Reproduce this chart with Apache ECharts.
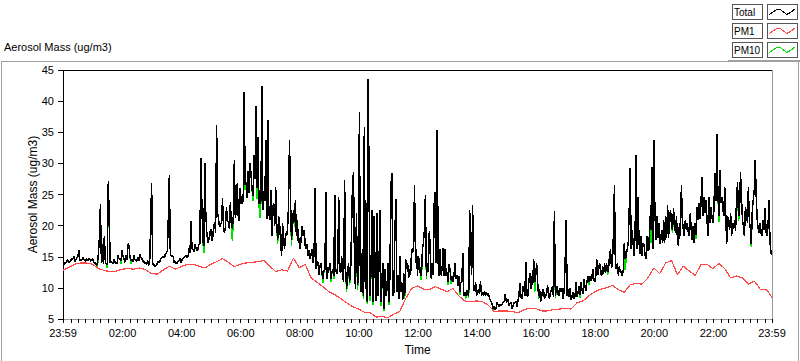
<!DOCTYPE html>
<html><head><meta charset="utf-8">
<script src="https://cdn.jsdelivr.net/npm/echarts@6/dist/echarts.min.js"></script>
<style>html,body{margin:0;padding:0;background:#fff}#c{width:800px;height:361px}#c path,#c polyline,#c rect,#c line{shape-rendering:crispEdges}</style>
</head><body><div id="c"></div>
<script>
// Time axis: minutes elapsed since 23:59 (0 .. 1440)
const totalStepMin = 2;
const pm1StepMin = 12;
const xTickMinutes = [0,121,241,361,481,601,721,841,961,1081,1201,1321,1440];
const xTickLabels = ['23:59','02:00','04:00','06:00','08:00','10:00','12:00','14:00','16:00','18:00','20:00','22:00','23:59'];
const yMin = 5, yMax = 45, yStep = 5;

const total = [
13.6,13.8,14.0,14.1,14.3,14.5,14.1,14.2,14.4,14.8,
14.6,15.1,14.2,14.5,14.8,15.0,16.0,14.3,14.5,14.4,
14.9,14.7,14.4,14.3,14.7,14.4,14.6,14.7,14.3,14.4,
14.8,14.2,14.0,14.0,13.6,13.9,15.6,18.2,23.4,14.0,
17.0,13.9,18.4,14.2,13.8,13.8,27.1,20.6,14.0,14.3,
14.0,13.9,14.6,14.1,13.9,14.0,15.3,14.6,14.8,14.3,
16.0,15.0,14.6,14.1,15.2,14.5,17.1,16.7,15.0,14.4,
14.6,14.2,15.3,14.6,14.4,14.3,15.0,14.4,15.4,14.9,
14.7,14.3,14.3,13.9,14.0,13.8,14.4,13.6,13.9,20.2,
26.8,13.8,13.8,13.4,13.5,13.6,14.2,14.2,14.0,14.6,
14.8,14.9,15.0,14.8,15.5,15.6,15.9,21.5,28.2,15.3,
15.2,15.1,15.0,14.0,14.2,13.9,13.9,14.3,14.5,14.7,
14.0,14.6,14.7,14.9,15.0,15.2,14.8,15.0,16.4,15.6,
20.7,16.4,16.2,15.8,17.0,16.4,16.0,16.2,17.0,17.0,
30.8,23.6,17.5,16.8,30.0,22.0,19.0,17.2,17.6,18.6,
19.5,17.5,18.0,19.9,20.5,18.9,36.2,22.0,21.0,19.8,
20.2,20.4,24.4,19.6,18.8,19.8,23.0,20.9,20.5,19.5,
23.8,20.0,19.5,21.5,30.5,21.2,22.5,26.8,21.5,20.8,
26.0,23.6,23.5,24.0,41.4,26.5,27.0,24.5,28.8,25.3,
30.0,28.1,25.7,24.8,31.4,27.5,39.2,26.0,34.2,23.6,
23.5,24.0,42.5,22.5,25.5,24.0,33.7,21.0,37.0,22.0,
20.9,25.7,18.3,23.0,23.6,19.9,26.2,20.5,17.7,21.5,
20.4,17.5,15.1,20.4,17.8,16.2,18.8,18.3,19.3,23.1,
33.7,24.6,17.7,19.5,22.5,20.6,24.1,18.3,20.9,17.2,
18.0,16.2,18.3,19.9,18.3,19.3,16.8,16.2,17.0,15.1,
16.0,14.6,15.5,16.2,14.0,15.5,26.0,13.0,14.2,14.0,
12.0,13.6,14.0,12.4,11.4,12.8,13.0,25.4,11.4,12.5,
13.0,14.0,11.4,12.5,13.0,11.9,24.9,13.0,12.2,13.5,
24.6,12.8,12.4,15.1,12.0,10.9,27.3,13.0,9.8,12.5,
14.0,11.0,11.9,19.3,26.8,28.6,14.0,9.8,22.0,10.5,
11.4,38.2,10.0,9.3,16.2,8.7,35.9,9.8,23.6,7.7,
43.5,22.5,8.7,14.3,22.5,7.7,21.5,11.9,7.9,22.0,
8.7,14.6,22.5,7.7,11.0,14.0,6.6,13.0,8.7,9.8,
14.0,7.7,12.0,26.5,28.4,8.7,9.3,18.3,24.2,9.3,
12.0,8.2,15.1,9.3,10.9,8.0,12.4,8.7,14.6,13.0,
14.0,11.6,13.0,12.0,16.2,15.6,16.7,26.5,14.0,16.2,
11.9,15.1,14.0,12.0,11.9,16.2,17.2,19.3,24.9,11.9,
14.0,12.5,19.1,16.2,11.4,14.0,12.0,23.6,25.4,14.0,
35.3,14.0,11.9,16.2,12.0,13.0,16.4,11.9,16.2,11.9,
12.5,10.9,13.8,13.0,11.2,11.9,10.9,11.9,14.0,11.4,
12.0,10.3,11.9,9.3,10.9,11.0,15.6,8.7,9.3,8.7,
9.6,9.0,8.8,22.5,15.6,12.0,23.3,9.8,9.5,10.9,
8.7,9.3,9.8,9.0,11.1,8.7,9.3,8.8,9.5,8.7,
9.3,8.7,9.2,8.4,8.0,7.7,7.2,6.6,7.1,6.5,
6.9,7.7,7.2,6.9,7.4,7.1,7.3,7.7,7.8,9.0,
8.0,7.7,8.2,7.1,7.5,7.7,6.6,7.1,7.6,7.7,
7.9,6.9,8.0,8.7,10.8,8.5,8.2,10.3,9.8,8.7,
14.1,8.7,8.7,10.9,12.4,9.8,11.9,10.5,14.6,10.9,
12.0,14.0,11.0,8.7,9.8,7.7,8.5,9.8,9.7,8.2,
8.9,8.7,10.4,9.3,8.2,9.3,9.6,10.3,8.6,22.3,
8.7,9.8,10.3,8.8,8.7,10.0,9.3,10.0,8.3,9.8,
14.6,20.9,8.7,9.8,8.5,10.0,8.0,8.7,9.3,8.3,
8.7,10.9,8.5,9.3,10.3,8.8,10.9,9.8,9.0,11.4,
10.3,9.5,10.9,11.9,10.9,11.9,11.2,11.4,13.0,11.5,
10.9,11.9,14.6,12.0,13.0,14.0,12.3,11.9,13.5,12.3,
14.0,12.4,14.0,12.5,13.0,15.1,16.2,13.2,14.0,18.8,
26.5,13.0,13.2,14.0,11.9,13.5,12.5,12.7,11.9,13.0,
17.2,14.6,15.2,16.2,17.2,22.5,29.2,16.2,19.3,17.2,
15.1,18.8,31.3,16.2,24.6,17.2,15.5,18.3,15.1,17.2,
17.0,15.4,14.6,18.3,16.0,16.2,21.5,19.3,29.4,16.2,
33.7,23.1,17.7,21.5,18.0,20.4,17.0,17.7,19.3,17.2,
20.9,17.2,21.5,18.0,23.3,18.0,21.5,22.5,19.9,19.3,
22.8,20.4,18.8,21.5,17.7,16.7,20.4,18.3,26.5,20.9,
19.3,18.3,20.9,19.3,20.4,18.9,18.3,22.0,19.3,17.7,
19.9,17.2,20.4,18.5,23.0,20.9,23.6,21.0,24.1,27.8,
21.5,24.6,22.0,24.1,21.0,18.3,24.6,20.4,23.0,21.5,
20.4,22.5,28.4,24.0,34.7,25.7,21.5,28.9,23.6,24.6,
23.0,21.5,26.2,22.0,17.0,21.5,20.4,19.3,22.0,18.3,
20.4,19.5,20.9,19.1,24.4,27.0,21.5,22.0,28.6,24.6,
20.9,20.0,18.3,23.0,22.0,20.5,26.2,20.9,19.5,17.0,
22.5,24.1,25.7,30.5,24.6,20.9,19.5,18.8,20.4,18.8,
18.3,20.9,19.3,22.8,19.0,18.3,19.9,24.1,17.2,15.6,
15.4
];

const pm10 = [
13.6,13.8,14.0,14.1,14.3,14.5,14.1,14.2,14.4,14.8,
14.6,15.1,14.2,14.5,14.8,15.0,16.0,14.3,14.5,14.4,
14.9,14.7,14.4,14.3,14.7,14.4,14.6,14.7,14.3,14.4,
14.8,14.2,14.0,14.0,13.6,13.2,15.6,18.2,23.4,14.0,
17.0,13.9,18.4,14.2,13.8,13.2,27.1,20.6,14.0,14.3,
14.0,13.9,14.6,14.1,13.9,14.0,15.3,14.6,14.8,13.8,
16.0,15.0,14.6,14.1,15.2,14.5,17.1,16.7,15.0,13.9,
14.6,14.2,15.3,14.6,14.4,14.3,15.0,14.4,15.4,14.9,
14.7,14.3,14.3,13.9,14.0,13.8,14.4,13.6,13.9,20.2,
26.8,13.8,13.8,13.4,13.5,13.6,14.2,14.2,14.0,14.6,
14.8,14.9,15.0,14.8,15.5,15.6,15.9,21.5,28.2,15.3,
15.2,15.1,15.0,14.0,14.2,13.9,13.9,14.3,14.5,14.7,
14.0,14.6,14.7,14.9,15.0,15.2,14.8,15.0,16.4,15.6,
20.7,16.4,16.2,15.8,17.0,16.4,16.0,16.2,17.0,17.0,
30.8,23.6,17.5,15.6,30.0,22.0,19.0,17.2,17.6,18.6,
19.5,17.5,18.0,19.9,20.5,18.9,36.2,22.0,21.0,19.8,
20.2,20.4,24.4,19.6,18.8,19.8,23.0,20.9,20.5,19.5,
23.8,20.0,17.6,21.5,30.5,21.2,22.5,26.8,21.5,20.8,
26.0,23.6,23.5,24.0,41.4,25.8,27.0,24.5,28.8,25.3,
30.0,28.1,25.7,24.0,31.4,27.5,39.2,24.3,34.2,23.6,
21.3,24.0,42.5,22.5,25.5,24.0,33.7,21.0,37.0,22.0,
20.9,25.7,18.3,23.0,23.6,19.9,26.2,20.5,17.0,21.5,
20.4,17.5,15.1,20.4,17.8,16.2,18.8,18.3,19.3,23.1,
33.7,24.6,16.8,19.5,22.5,19.8,24.1,18.3,20.9,17.2,
18.0,16.2,18.3,19.9,18.3,19.3,16.8,16.2,17.0,15.1,
16.0,14.6,15.5,16.2,14.0,15.5,26.0,13.0,14.2,14.0,
12.0,13.6,14.0,12.4,10.8,12.8,13.0,25.4,11.4,12.5,
13.0,14.0,10.9,12.5,13.0,11.4,24.9,13.0,12.2,13.5,
24.6,12.8,12.4,15.1,12.0,10.9,27.3,13.0,9.3,12.5,
14.0,10.4,11.9,19.3,26.8,28.6,14.0,9.8,22.0,9.7,
11.4,38.2,10.0,9.3,16.2,8.2,35.9,9.8,23.6,7.4,
43.5,22.5,7.9,14.3,22.5,7.3,21.5,11.9,7.9,22.0,
8.7,14.6,22.5,7.1,11.0,14.0,6.3,13.0,8.7,9.8,
14.0,7.2,12.0,26.5,28.4,8.7,9.3,18.3,24.2,9.3,
12.0,8.2,15.1,9.3,10.9,8.0,12.4,8.2,14.6,13.0,
14.0,11.6,13.0,12.0,16.2,15.6,16.7,26.5,14.0,16.2,
11.9,15.1,14.0,12.0,11.2,16.2,17.2,19.3,24.9,11.4,
14.0,12.5,19.1,16.2,11.4,14.0,12.0,23.6,25.4,14.0,
35.3,14.0,11.9,16.2,12.0,13.0,16.4,11.9,16.2,11.9,
12.5,10.4,13.8,13.0,10.6,11.9,10.9,11.9,14.0,11.4,
12.0,10.3,11.9,8.9,10.9,11.0,15.6,8.7,9.3,8.3,
9.6,9.0,8.4,22.5,15.6,12.0,23.3,9.8,9.5,10.9,
8.7,9.3,9.8,9.0,11.1,8.7,9.3,8.8,9.5,8.7,
9.3,8.7,9.2,8.4,8.0,7.7,7.2,6.3,7.1,6.5,
6.9,7.7,7.2,6.9,7.4,7.1,7.3,7.7,7.8,9.0,
8.0,7.7,8.2,7.1,7.5,7.7,6.6,7.1,7.6,7.7,
7.9,6.9,8.0,8.7,10.8,8.5,8.2,10.3,9.8,8.7,
14.1,8.7,8.7,10.9,12.4,9.8,11.9,10.5,14.6,9.3,
12.0,14.0,11.0,8.3,9.8,7.7,8.5,9.8,9.7,8.2,
8.9,8.7,10.4,9.3,8.2,9.3,9.6,10.3,8.6,22.3,
8.3,9.8,10.3,8.8,8.7,10.0,9.3,10.0,8.3,9.8,
14.6,20.9,8.7,9.8,8.5,10.0,8.0,8.7,9.3,8.3,
8.7,10.9,8.5,9.3,10.3,8.4,10.9,9.8,9.0,11.4,
10.3,9.5,10.9,11.9,10.5,11.9,11.2,11.4,13.0,11.5,
10.9,11.9,14.6,12.0,13.0,14.0,12.3,11.9,13.5,12.3,
14.0,12.4,14.0,12.0,13.0,15.1,16.2,13.2,14.0,18.8,
26.5,13.0,13.2,14.0,11.9,13.5,12.5,12.7,11.9,13.0,
17.2,12.8,15.2,16.2,17.2,22.5,29.2,16.2,19.3,17.2,
15.1,18.8,31.3,16.2,24.6,17.2,15.5,18.3,15.1,17.2,
17.0,15.4,14.6,18.3,16.0,16.2,21.5,17.2,29.4,16.2,
33.7,23.1,17.7,21.5,18.0,20.4,17.0,17.7,19.3,17.2,
20.9,17.2,21.5,18.0,23.3,18.0,21.5,22.5,19.9,18.8,
22.8,20.4,18.8,21.5,17.7,16.7,20.4,18.3,26.5,20.9,
19.3,18.3,20.9,19.3,20.4,18.9,18.3,22.0,19.3,17.7,
19.9,17.2,20.4,17.8,23.0,20.9,23.6,21.0,24.1,27.8,
21.5,24.6,22.0,24.1,21.0,18.3,24.6,20.4,23.0,21.5,
20.4,22.5,28.4,24.0,34.7,25.7,20.6,28.9,23.6,24.6,
23.0,21.5,26.2,22.0,17.0,21.5,20.4,19.3,22.0,18.3,
20.4,19.5,20.9,19.1,24.4,27.0,20.8,22.0,28.6,24.6,
20.9,20.0,18.3,23.0,22.0,20.5,26.2,20.9,19.5,16.6,
22.5,24.1,25.7,30.5,24.6,20.9,19.5,18.8,20.4,18.8,
18.3,20.9,19.3,22.8,19.0,18.3,19.9,24.1,17.2,15.6,
15.4
];

const pm1 = [
12.8,13.3,13.8,14.0,14.0,13.8,13.1,12.8,12.6,12.7,
13.0,13.1,13.0,13.2,12.9,12.3,12.2,12.9,13.5,13.0,
13.4,13.8,13.8,13.5,13.2,13.8,14.2,14.7,14.1,13.4,
13.8,14.0,14.1,14.2,14.4,13.5,12.6,12.9,12.7,14.8,
13.2,13.8,11.6,10.9,10.2,9.4,8.9,8.3,7.6,7.0,
6.6,6.1,6.0,5.3,5.4,5.2,5.8,6.2,8.3,9.9,
10.3,9.8,9.7,10.2,9.8,9.4,9.9,8.7,7.9,7.8,
7.9,7.8,7.2,6.2,6.3,6.3,6.2,6.0,6.5,6.7,
6.7,6.3,6.3,6.5,6.6,6.7,6.6,7.6,7.9,8.7,
9.4,9.8,10.0,10.4,9.7,9.3,10.5,10.7,10.6,11.6,
13.2,12.3,14.0,14.4,12.1,13.5,12.7,12.0,13.8,13.8,
13.1,13.9,13.1,11.6,11.9,11.6,10.6,11.1,9.8,9.8,8.5
];

const legendNames = ['Total','PM1','PM10'];
const colors = {Total:'#000000', PM1:'#ff4848', PM10:'#00e000'};
const FONT = '"Liberation Sans", Arial, sans-serif';

function pairs(arr, step){ return arr.map((v,i)=>[i*step, v]); }
function fmtLabel(v){ const k = xTickMinutes.indexOf(v); return k>=0 ? xTickLabels[k] : ''; }
const minorTicks = [0];
for (let m = 1; m < 1440; m += 15) minorTicks.push(m);
minorTicks.push(1440);

const legendGraphic = [];
const zig = [[2,10],[9,5],[13,5],[19,10],[23,8],[28,4]];
legendNames.forEach((n, r) => {
  const top = 4.5 + r*19;
  legendGraphic.push({type:'rect', shape:{x:732.5, y:top, width:30, height:15}, style:{fill:'#fff', stroke:'#555', lineWidth:1}});
  legendGraphic.push({type:'text', x:734, y:top+8, style:{text:n, font:'10px '+FONT, fill:'#000', verticalAlign:'middle'}});
  legendGraphic.push({type:'rect', shape:{x:767.5, y:top, width:30, height:15}, style:{fill:'#fff', stroke:'#555', lineWidth:1}});
  legendGraphic.push({type:'polyline', shape:{points: zig.map(p=>[767.5+p[0], top+p[1]])}, style:{stroke:colors[n], lineWidth:1, fill:null}});
});

const chart = echarts.init(document.getElementById('c'), null, {renderer:'svg'});
chart.setOption({
  animation: false,
  backgroundColor: '#fff',
  grid: {left:63, top:70, right:28, bottom:39, show:true, borderColor:'#9a9a9a', borderWidth:1, backgroundColor:'#fff'},
  xAxis: [{
    type:'value', min:0, max:1440, position:'bottom',
    axisLine:{show:true, lineStyle:{color:'#9a9a9a'}},
    axisTick:{show:true, customValues:minorTicks, length:4, lineStyle:{color:'#000'}},
    axisLabel:{customValues:xTickMinutes, formatter:fmtLabel, color:'#000', fontSize:11, fontFamily:FONT, margin:8, showMinLabel:true, showMaxLabel:true},
    splitLine:{show:false},
    name:'Time', nameLocation:'middle', nameGap:25,
    nameTextStyle:{color:'#000', fontSize:12, fontFamily:FONT}
  },{
    type:'value', min:0, max:1440, position:'top',
    axisLine:{show:true, lineStyle:{color:'#000'}},
    axisTick:{show:false}, axisLabel:{show:false}, splitLine:{show:false}
  }],
  yAxis: {
    type:'value', min:yMin, max:yMax, interval:yStep,
    axisLine:{show:true, lineStyle:{color:'#000'}},
    axisTick:{show:true, length:5, lineStyle:{color:'#000'}},
    axisLabel:{color:'#000', fontSize:11, fontFamily:FONT, margin:9},
    splitLine:{show:false},
    name:'Aerosol Mass (ug/m3)', nameLocation:'middle', nameGap:24, nameMoveOverlap:false,
    nameTextStyle:{color:'#000', fontSize:12, fontFamily:FONT}
  },
  series: [
    {type:'line', name:'PM10', data:pairs(pm10,totalStepMin), showSymbol:false, symbol:'none', z:2,
     lineStyle:{width:1.5, color:colors.PM10}, itemStyle:{color:colors.PM10}, silent:true},
    {type:'line', name:'PM1', data:pairs(pm1,pm1StepMin), showSymbol:false, symbol:'none', z:3,
     lineStyle:{width:1.2, color:colors.PM1}, itemStyle:{color:colors.PM1}, silent:true},
    {type:'line', name:'Total', data:pairs(total,totalStepMin), showSymbol:false, symbol:'none', z:4,
     lineStyle:{width:1.5, color:colors.Total}, itemStyle:{color:colors.Total}, silent:true}
  ],
  graphic: [
    {type:'text', left:4, top:41, style:{text:'Aerosol Mass (ug/m3)', font:'11px '+FONT, fill:'#000'}},
    {type:'polyline', shape:{points:[[1.5,361],[1.5,61.5],[798.5,61.5],[798.5,361]]}, style:{stroke:'#a0a0a0', lineWidth:1, fill:null}},
    {type:'line', shape:{x1:728, y1:61, x2:800, y2:61}, style:{stroke:'#a0a0a0', lineWidth:2}}
  ].concat(legendGraphic)
});
</script></body></html>
